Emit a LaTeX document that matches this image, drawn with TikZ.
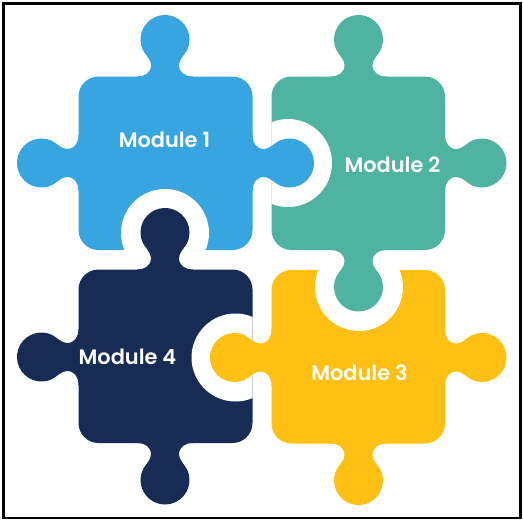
\documentclass[tikz,border=0pt]{standalone}
\usepackage{fontspec}
\setmainfont{Poppins}[BoldFont={Poppins SemiBold}]
\definecolor{pblue}{HTML}{36A5E0}
\definecolor{pteal}{HTML}{4FB3A1}
\definecolor{pnavy}{HTML}{182B54}
\definecolor{pgold}{HTML}{FEC013}
\tikzset{
  modlabel/.style={text=white,font=\bfseries\fontsize{20.9}{23}\selectfont,inner sep=0pt},
  frameline/.style={draw=black,line width=2.6pt}
}
\newcommand{\pzknob}[4]{%
  \fill[#1,shift={(#2,#3)},rotate=#4]
    (-28,-2) -- (-28,0) .. controls (-20,0) and (-14,4) .. (-14,11.5)
    .. controls (-14,17) and (-19.2,21) .. (-22.2,26.65)
    arc[start angle=205,end angle=-25,radius=24.5]
    .. controls (19.2,21) and (14,17) .. (14,11.5)
    .. controls (14,4) and (20,0) .. (28,0) -- (28,-2) -- cycle;}
\newcommand{\pzbody}[5]{%
  \fill[#1,rounded corners=20pt] (#2,#3) rectangle (#4,#5);}
\newcommand{\pzring}[6]{%
  \begin{scope}
    \clip (#1,#2) rectangle (#3,#4);
    \fill[white] (#5,#6) circle[radius=44];
  \end{scope}}
\begin{document}
\begin{tikzpicture}[x=1pt,y=1pt]
\useasboundingbox (0,-520) rectangle (523,0);
\fill[white] (0,-520) rectangle (523,0);
% bodies
\pzbody{pblue}{78.5}{-76.5}{252.5}{-250}
\pzbody{pteal}{271.5}{-76.5}{445}{-250}
\pzbody{pgold}{271.5}{-270}{445}{-443.5}
\pzbody{pnavy}{78.5}{-269.5}{252.5}{-443}
% white sockets
\pzring{78.5}{-76.5}{252.5}{-250}{165}{-233}
\pzring{271.5}{-76.5}{445}{-250}{288}{-163}
\pzring{271.5}{-270}{445}{-443.5}{359}{-287}
\pzring{78.5}{-269.5}{252.5}{-443}{235.5}{-357.5}
% tabs
\pzknob{pblue}{165}{-76.5}{0}
\pzknob{pblue}{78.5}{-163}{90}
\pzknob{pblue}{252.5}{-163}{270}
\pzknob{pteal}{358.5}{-76.5}{0}
\pzknob{pteal}{445}{-163}{270}
\pzknob{pteal}{358.5}{-250}{180}
\pzknob{pgold}{271.5}{-357.5}{90}
\pzknob{pgold}{445}{-357.5}{270}
\pzknob{pgold}{358.5}{-443.5}{180}
\pzknob{pnavy}{165}{-269.5}{0}
\pzknob{pnavy}{78.5}{-357}{90}
\pzknob{pnavy}{165}{-443}{180}
% labels
\node[modlabel] (m1) at (164.5,-139.6) {Module 1};
\node[modlabel] (m2) at (392.5,-164.6) {Module 2};
\node[modlabel] (m3) at (359.5,-372.4) {Module 3};
\node[modlabel] (m4) at (127.5,-356.9) {Module 4};
% frame
\draw[frameline] (3.6,-3.6) rectangle (520.3,-518);
\end{tikzpicture}
\end{document}
